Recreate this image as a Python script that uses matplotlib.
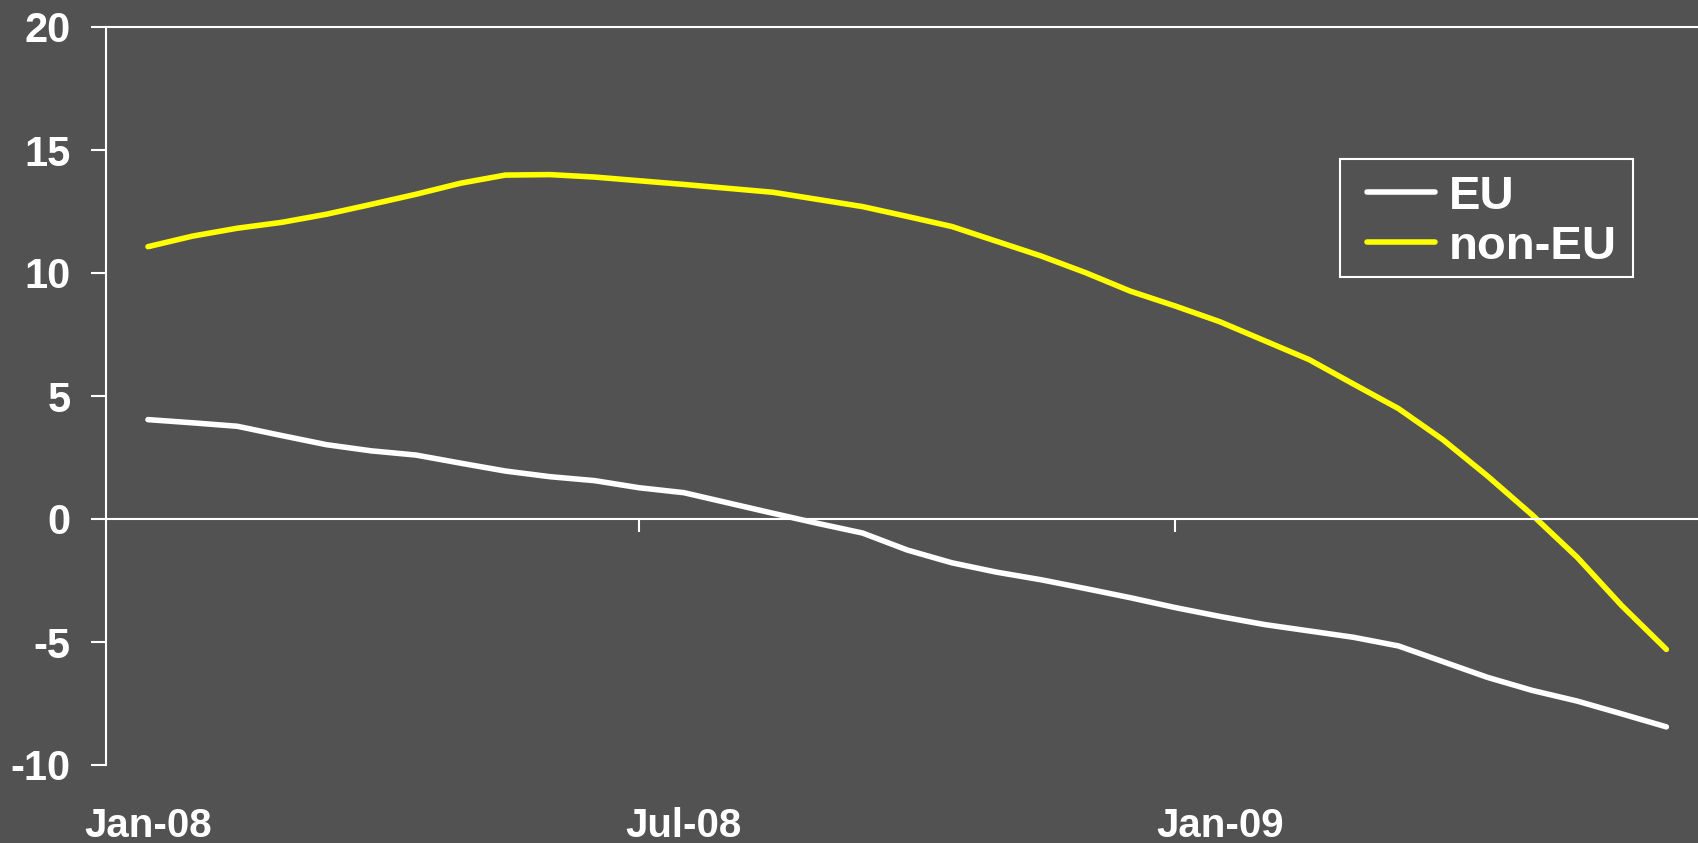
import numpy as np
import matplotlib.pyplot as plt
from matplotlib.patches import Rectangle

# half-monthly readings, x in months counted from Jan-08
period = np.arange(35) / 2

eu = [4.04, 3.91, 3.77, 3.39, 3.02, 2.77, 2.60, 2.27, 1.95, 1.72,
      1.56, 1.27, 1.07, 0.65, 0.23, -0.18, -0.57, -1.26, -1.78, -2.16,
      -2.47, -2.83, -3.20, -3.60, -3.96, -4.29, -4.55, -4.81, -5.16, -5.80,
      -6.44, -6.97, -7.40, -7.92, -8.45]

non_eu = [11.07, 11.50, 11.82, 12.06, 12.39, 12.79, 13.20, 13.65, 13.98, 14.00,
          13.90, 13.75, 13.60, 13.44, 13.28, 12.99, 12.70, 12.30, 11.89, 11.29,
          10.69, 10.01, 9.26, 8.66, 8.02, 7.25, 6.48, 5.48, 4.49, 3.22,
          1.74, 0.16, -1.55, -3.52, -5.30]

label_pos = [0, 6, 12]
labels = ['Jan-08', 'Jul-08', 'Jan-09']
tick_marks = [5.5, 11.5]

bg = '#525252'
plt.rcParams['font.family'] = ['Liberation Sans', 'DejaVu Sans']
plt.rcParams['font.weight'] = 'bold'
plt.rcParams['axes.unicode_minus'] = False

W, H = 1699, 843
fig = plt.figure(figsize=(W / 100, H / 100), dpi=100, facecolor=bg)
ax = fig.add_axes([106 / W, 1 - 765 / H, (1711 - 106) / W, (765 - 27) / H])
ax.set_facecolor(bg)

ax.plot(period, eu, color='white', lw=4, solid_capstyle='round', label='EU')
ax.plot(period, non_eu, color='#ffff00', lw=4, solid_capstyle='round', label='non-EU')

ax.set_xlim(-0.47, 17.5)
ax.set_ylim(-10, 20)
ax.set_yticks(range(-10, 21, 5))
ax.tick_params(axis='y', direction='out', length=11, width=1.5, color='white',
               labelcolor='white', labelsize=30, pad=14.5)

ax.spines['right'].set_visible(False)
for s in ['left', 'top', 'bottom']:
    ax.spines[s].set_color('white')
    ax.spines[s].set_linewidth(1.5)
ax.spines['bottom'].set_position(('data', 0))
ax.set_xticks(tick_marks, ['', ''])
ax.tick_params(axis='x', direction='out', length=9, width=1.5, color='white')

sec = ax.secondary_xaxis('bottom')
sec.set_xticks(label_pos, labels)
sec.tick_params(length=0, pad=30, labelsize=29, labelcolor='white')
sec.spines['bottom'].set_visible(False)

# legend: text and handles, with a separately drawn box
leg = ax.legend(loc='upper left', bbox_to_anchor=(1367 / W, 1 - 175 / H),
                bbox_transform=fig.transFigure, prop={'size': 34, 'weight': 'bold'},
                labelcolor='white', frameon=False, borderaxespad=0, borderpad=0,
                labelspacing=0.12, handlelength=1.45, handletextpad=0.28)
fig.patches.append(Rectangle((1340 / W, 1 - 277 / H), 293 / W, 118 / H,
                             transform=fig.transFigure, fill=False,
                             edgecolor='white', lw=1.5))

fig.savefig('out.png', dpi=100, facecolor=bg)
